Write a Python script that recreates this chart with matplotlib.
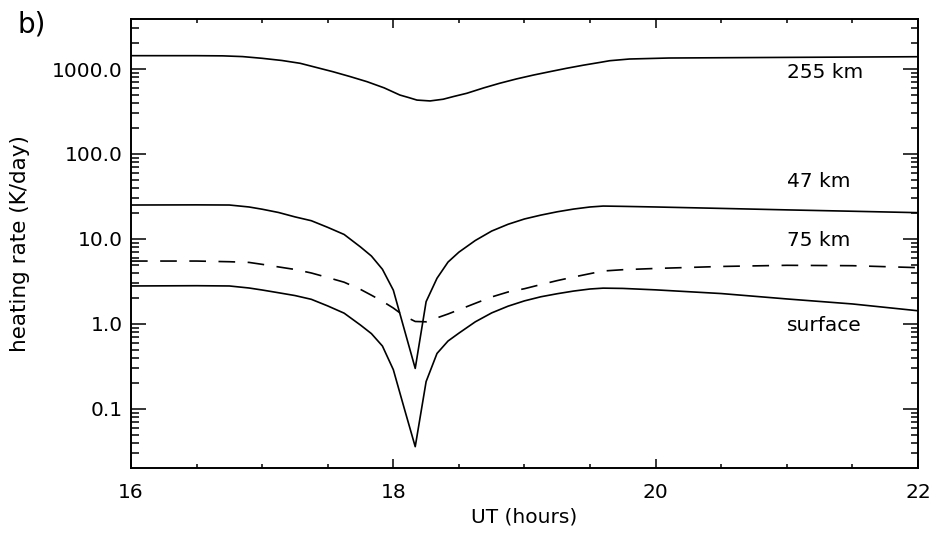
import matplotlib
matplotlib.use("Agg")
import matplotlib.pyplot as plt
from matplotlib.ticker import LogLocator, MultipleLocator, NullFormatter

plt.rcParams['font.family'] = ['DejaVu Sans']

# UT (hours) sample times for the 255 km curve
ut_255 = [16.0, 16.5, 16.7, 16.85, 17.0, 17.15, 17.29, 17.54, 17.67, 17.8,
          17.93, 18.05, 18.12, 18.18, 18.28, 18.38, 18.46, 18.56, 18.69, 18.81,
          18.94, 19.07, 19.2, 19.32, 19.45, 19.58, 19.65, 19.8, 20.1, 21.0, 22.0]
rate_255km = [1435, 1435, 1428, 1400, 1336, 1260, 1167, 929, 815, 709,
              600, 494, 460, 431, 421, 441, 475, 518, 600, 679,
              765, 850, 935, 1019, 1110, 1199, 1252, 1311, 1347, 1370, 1395]

# UT (hours) sample times for the other curves
ut = [16.0, 16.5, 16.75, 16.9, 17.0, 17.125, 17.25, 17.375, 17.5, 17.625,
      17.75, 17.833, 17.917, 18.0, 18.083, 18.167, 18.25, 18.333, 18.417, 18.5,
      18.625, 18.75, 18.875, 19.0, 19.125, 19.25, 19.375, 19.5, 19.6, 19.75,
      20.0, 20.5, 21.0, 21.5, 22.0]

# heating rates (K/day)
rate_47km = [25.1, 25.2, 25.1, 23.8, 22.4, 20.5, 18.2, 16.4, 13.7, 11.3,
             8.05, 6.3, 4.4, 2.5, 0.87, 0.30, 1.83, 3.45, 5.35, 7.0,
             9.6, 12.4, 14.9, 17.2, 19.1, 20.9, 22.5, 23.8, 24.4, 24.2,
             23.8, 22.9, 22.0, 21.2, 20.4]
rate_75km = [5.5, 5.5, 5.4, 5.3, 5.03, 4.69, 4.38, 3.98, 3.52, 3.1,
             2.55, 2.18, 1.85, 1.54, 1.24, 1.07, 1.06, 1.18, 1.31, 1.47,
             1.75, 2.08, 2.38, 2.6, 2.91, 3.24, 3.57, 3.91, 4.2, 4.35,
             4.5, 4.75, 4.9, 4.85, 4.6]
rate_surface = [2.8, 2.82, 2.8, 2.65, 2.51, 2.33, 2.16, 1.95, 1.63, 1.34,
                0.97, 0.77, 0.55, 0.29, 0.102, 0.036, 0.21, 0.45, 0.63, 0.78,
                1.06, 1.35, 1.62, 1.87, 2.09, 2.27, 2.44, 2.58, 2.64, 2.62,
                2.52, 2.28, 1.97, 1.72, 1.43]

labels = ["255 km", "47 km", "75 km", "surface"]
label_y = [920, 47, 9.7, 0.97]

y_major = [0.1, 1.0, 10.0, 100.0, 1000.0]
y_major_labels = ["0.1", "1.0", "10.0", "100.0", "1000.0"]
x_major = [16, 18, 20, 22]


def main():
    fig = plt.figure(figsize=(9.33, 5.34), dpi=100)
    ax = fig.add_axes([0.1404, 0.1236, 0.8435, 0.8408])

    lw = 1.2
    ax.plot(ut_255, rate_255km, color="black", lw=lw)
    ax.plot(ut, rate_47km, color="black", lw=lw)
    ax.plot(ut, rate_surface, color="black", lw=lw)
    ax.plot(ut, rate_75km, color="black", lw=lw, dashes=(10, 7.5))

    ax.set_yscale("log")
    ax.set_xlim(16, 22)
    ax.set_ylim(0.0202, 3875)

    ax.set_xticks(x_major)
    ax.xaxis.set_minor_locator(MultipleLocator(0.5))
    ax.set_yticks(y_major)
    ax.set_yticklabels(y_major_labels)
    ax.yaxis.set_minor_locator(LogLocator(base=10, subs=range(2, 10), numticks=20))
    ax.yaxis.set_minor_formatter(NullFormatter())

    ax.tick_params(which="both", direction="in", top=True, right=True,
                   width=1.1, labelsize=14.5, colors="black")
    ax.tick_params(axis="y", which="major", length=10.8, pad=6)
    ax.tick_params(axis="y", which="minor", length=5.4)
    ax.tick_params(axis="x", which="major", length=6.5, pad=11)
    ax.tick_params(axis="x", which="minor", length=3.2)

    for s in ax.spines.values():
        s.set_linewidth(1.4)

    for txt, yv in zip(labels, label_y):
        ax.text(21.0, yv, txt, fontsize=14.5, va="center", ha="left")

    ax.set_xlabel("UT (hours)", fontsize=14.5)
    ax.xaxis.set_label_coords(0.5, -0.089)
    ax.set_ylabel("heating rate (K/day)", fontsize=15.5)
    ax.yaxis.set_label_coords(-0.128, 0.5)

    fig.text(17 / 933, 1 - 25 / 534, "b)", fontsize=20, va="center", ha="left")

    fig.savefig("out.png", dpi=100)


if __name__ == "__main__":
    main()
